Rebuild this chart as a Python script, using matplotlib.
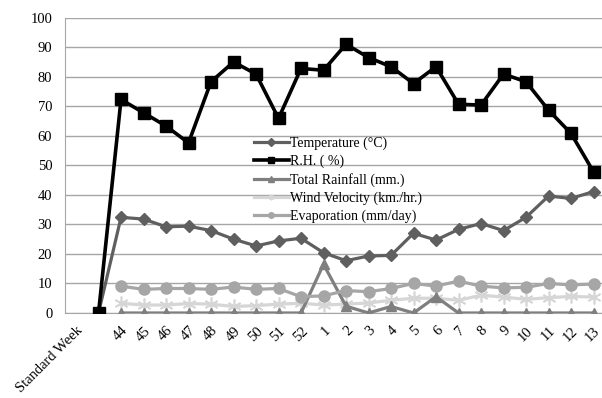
import numpy as np
import matplotlib
matplotlib.use("Agg")
import matplotlib.pyplot as plt

categories = ["Standard Week", ""] + [str(w) for w in range(44, 53)] + [str(w) for w in range(1, 14)]
nan = np.nan
temperature = [nan, 0, 32.4, 31.8, 29.2, 29.4, 27.9, 25.0, 22.7, 24.4, 25.3,
               20.4, 17.7, 19.3, 19.5, 27.0, 24.7, 28.3, 30.3, 27.9, 32.4, 39.6, 38.8, 41.1]
rh = [nan, 0, 72.3, 67.8, 63.3, 57.6, 78.3, 85.0, 80.9, 65.9, 82.8,
      82.2, 91.0, 86.5, 83.4, 77.7, 83.4, 70.7, 70.4, 80.9, 78.3, 68.7, 60.8, 47.8]
rainfall = [nan, nan, 0, 0, 0, 0, 0, 0, 0, 0, 0,
            16.5, 2.3, 0, 2.2, 0, 5.5, 0, 0, 0, 0, 0, 0, 0]
wind = [nan, nan, 3.3, 2.7, 2.7, 3.2, 3.0, 2.2, 2.5, 3.0, 3.3,
        2.7, 3.0, 3.4, 4.3, 5.0, 5.0, 4.3, 6.0, 5.4, 4.6, 5.2, 5.6, 5.4]
evaporation = [nan, nan, 9.1, 8.0, 8.3, 8.3, 8.0, 8.8, 8.0, 8.3, 5.5,
               5.8, 7.6, 7.2, 8.3, 10.0, 9.1, 10.8, 9.1, 8.5, 8.7, 10.0, 9.5, 9.8]
series_names = ["Temperature (\u00b0C)", "R.H. ( %)", "Total Rainfall (mm.)",
                "Wind Velocity (km./hr.)", "Evaporation (mm/day)"]

plt.rcParams['font.family'] = ['Liberation Serif', 'DejaVu Serif']

fig = plt.figure(figsize=(6.02, 3.98), dpi=100)
ax = fig.add_axes([0.1076, 0.2136, 0.897, 0.742])
x = np.arange(len(categories))

ax.plot(x, temperature, color='#5f5f5f', lw=2.3, marker='D', ms=6.5, label=series_names[0], zorder=4)
ax.plot(x, rh, color='black', lw=2.6, marker='s', ms=9, label=series_names[1], zorder=5)
ax.plot(x, rainfall, color='#7f7f7f', lw=2.3, marker='^', ms=7.5, label=series_names[2], zorder=3)
ax.plot(x, wind, color='#d6d6d6', lw=2.3, marker=(6, 2, 0), ms=10, mew=1.2, label=series_names[3], zorder=2)
ax.plot(x, evaporation, color='#a6a6a6', lw=2.3, marker='o', ms=8, label=series_names[4], zorder=3)

ax.set_xlim(-0.5, len(categories) - 0.5)
ax.set_ylim(0, 100)
ax.set_yticks(np.arange(0, 101, 10))
ax.set_xticks(x)
ax.set_xticklabels(categories, rotation=45, ha='right', va='top', rotation_mode='anchor')
ax.tick_params(axis='x', length=0, labelsize=10.5, pad=8)
ax.tick_params(axis='y', length=0, labelsize=10.5, pad=9)
ax.grid(axis='y', color='#a6a6a6', lw=1.0)
ax.set_axisbelow(True)
for s in ['top', 'right']:
    ax.spines[s].set_visible(False)
ax.spines['left'].set_color('#a6a6a6')
ax.spines['bottom'].set_color('#a6a6a6')

leg = ax.legend(loc='upper left', bbox_to_anchor=(0.34, 0.615), frameon=False,
                fontsize=10, handlelength=2.5, handletextpad=0.1, labelspacing=0.32,
                borderaxespad=0)
for h in leg.legend_handles:
    h.set_markersize(4)

fig.savefig("out.png", dpi=100)
